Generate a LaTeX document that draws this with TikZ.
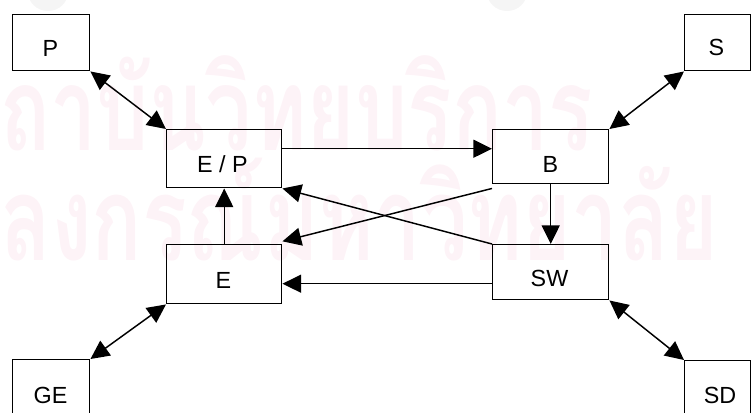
\documentclass[tikz,border=0pt]{standalone}
\usepackage{fontspec}
\setmainfont{Liberation Sans}
\newfontfamily\thaifont[Script=Thai]{Loma}
\usetikzlibrary{arrows.meta}
\definecolor{wm}{RGB}{253,243,247}
\begin{document}
\begin{tikzpicture}[x=0.75pt,y=-0.75pt,
  box/.style={draw, line width=1.1pt, inner sep=0pt, anchor=north west},
  lab/.style={font=\fontsize{17.5}{20}\selectfont, inner sep=0pt, anchor=base},
  arr/.style={line width=1.1pt, -{Triangle[length=14pt,width=13.5pt]}},
  darr/.style={line width=1.1pt, {Triangle[length=14pt,width=13.5pt]}-{Triangle[length=14pt,width=13.5pt]}},
  wmtext/.style={anchor=base west, inner sep=0pt, text=wm}]
\useasboundingbox (0,0) rectangle (751,412);
\clip (0,0) rectangle (751,412);
% watermark
\fill[gray!8] (48,-8) ellipse [x radius=20, y radius=19];
\fill[gray!8] (507,-8) ellipse [x radius=20, y radius=19];
\node[wmtext] (wm1) at (0,150) {\scalebox{1}[1.4]{\resizebox{444.75pt}{!}{\thaifont\bfseries\fontsize{96}{96}\selectfont ถาบันวิทยบริการ}}};
\node[wmtext] (wm2) at (0,260) {\scalebox{1}[1.4]{\resizebox{538.5pt}{!}{\thaifont\bfseries\fontsize{96}{96}\selectfont ลงกรณ์มหาวิทยาลัย}}};
% boxes
\node[box, minimum width=57.75pt, minimum height=42pt] (P) at (12,14) {};
\node[box, minimum width=49.5pt, minimum height=42pt] (S) at (684,14) {};
\node[box, minimum width=86.25pt, minimum height=43.5pt] (EP) at (166,129) {};
\node[box, minimum width=87pt, minimum height=40.5pt] (B) at (492,129) {};
\node[box, minimum width=86.25pt, minimum height=44.25pt] (E) at (166,244) {};
\node[box, minimum width=87pt, minimum height=41.25pt] (SW) at (492,244) {};
\node[box, minimum width=57.75pt, minimum height=45pt] (GE) at (12,359) {};
\node[box, minimum width=49.5pt, minimum height=45pt] (SD) at (684,360) {};
% labels
\node[lab] (Pt) at (50.5,56) {P};
\node[lab] (St) at (716.5,55) {S};
\node[lab] (EPt) at (222.5,172) {E / P};
\node[lab] (Bt) at (550.5,172) {B};
\node[lab] (Et) at (223.5,288) {E};
\node[lab] (SWt) at (549.5,286) {SW};
\node[lab] (GEt) at (50.5,403) {GE};
\node[lab] (SDt) at (720,403) {SD};
% connectors
\draw[darr] (P.south east) -- (EP.north west);
\draw[darr] (S.south west) -- (B.north east);
\draw[darr] (E.south west) -- (GE.north east);
\draw[darr] (SW.south east) -- (SD.north west);
\draw[arr] ([yshift=7.5pt]EP.east) -- ([yshift=7.5pt]EP.east -| B.west);
\draw[arr] (B.south) -- (SW.north);
\draw[arr] ([yshift=-8.6pt]SW.west) -- ([yshift=-8.6pt]SW.west -| E.east);
\draw[arr] (E.north) -- (EP.south);
\draw[arr] ([yshift=-3pt]B.south west) -- ([yshift=2pt]E.north east);
\draw[arr] (SW.north west) -- (EP.south east);
\end{tikzpicture}
\end{document}
